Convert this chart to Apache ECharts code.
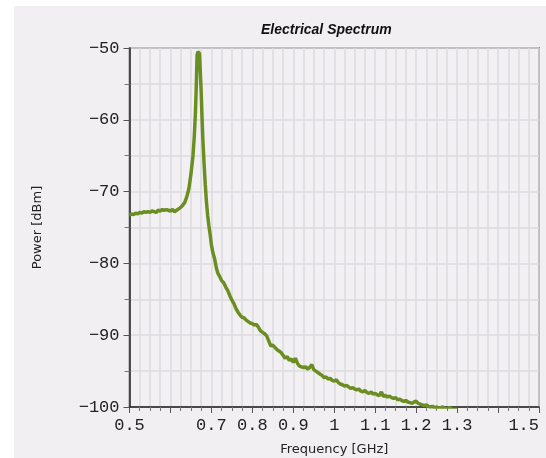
<!DOCTYPE html>
<html>
<head>
<meta charset="utf-8">
<script src="https://cdn.jsdelivr.net/npm/echarts@6/dist/echarts.min.js"></script>
<style>
  html, body { margin: 0; padding: 0; background: #ffffff; }
  #chart { width: 546px; height: 458px; }
</style>
</head>
<body>
<div id="chart"></div>
<script>
// frequency [GHz] and power [dBm]
const freq = [
  0.500, 0.505, 0.510, 0.515, 0.520, 0.525, 0.530, 0.535, 0.540, 0.545,
  0.550, 0.555, 0.560, 0.565, 0.570, 0.575, 0.580, 0.585, 0.590, 0.595,
  0.600, 0.605, 0.610, 0.615, 0.620, 0.625, 0.630, 0.635, 0.640, 0.645,
  0.650, 0.655, 0.658, 0.661, 0.663, 0.665, 0.667, 0.669, 0.671, 0.673,
  0.675, 0.677, 0.679, 0.682, 0.685, 0.688, 0.691, 0.694, 0.697, 0.700,
  0.704, 0.708, 0.712, 0.716, 0.720, 0.725, 0.730, 0.735, 0.740, 0.745,
  0.750, 0.755, 0.760, 0.765, 0.770, 0.775, 0.780, 0.785, 0.790, 0.795,
  0.800, 0.805, 0.810, 0.815, 0.820, 0.825, 0.830, 0.835, 0.840, 0.845,
  0.850, 0.855, 0.860, 0.865, 0.870, 0.875, 0.880, 0.885, 0.890, 0.895,
  0.900, 0.905, 0.910, 0.915, 0.920, 0.925, 0.930, 0.935, 0.940, 0.945,
  0.950, 0.955, 0.960, 0.965, 0.970, 0.975, 0.980, 0.985, 0.990, 0.995,
  1.000, 1.005, 1.010, 1.015, 1.020, 1.025, 1.030, 1.035, 1.040, 1.045,
  1.050, 1.055, 1.060, 1.065, 1.070, 1.075, 1.080, 1.085, 1.090, 1.095,
  1.100, 1.105, 1.110, 1.115, 1.120, 1.125, 1.130, 1.135, 1.140, 1.145,
  1.150, 1.155, 1.160, 1.165, 1.170, 1.175, 1.180, 1.185, 1.190, 1.195,
  1.200, 1.205, 1.210, 1.215, 1.220, 1.225, 1.230, 1.235, 1.240, 1.245,
  1.250, 1.255, 1.260, 1.265, 1.270, 1.275, 1.280, 1.285, 1.290, 1.295,
  1.300, 1.305
]
const power = [
  -73.3, -73.1, -73.2, -73.0, -73.1, -72.9, -73.0, -72.8, -72.9, -72.8,
  -72.9, -72.7, -72.8, -72.9, -72.6, -72.7, -72.5, -72.6, -72.5, -72.6,
  -72.7, -72.5, -72.8, -72.6, -72.4, -72.2, -71.9, -71.5, -70.7, -69.6,
  -67.6, -65.0, -62.5, -59.0, -55.5, -51.0, -50.5, -50.6, -50.8, -53.5,
  -56.0, -59.5, -62.5, -66.0, -69.0, -71.5, -73.4, -74.8, -76.0, -77.4,
  -78.6, -79.4, -80.6, -81.4, -81.8, -82.4, -82.7, -83.3, -83.8, -84.5,
  -85.1, -85.6, -86.3, -86.8, -87.2, -87.5, -87.6, -87.9, -88.1, -88.3,
  -88.4, -88.6, -88.5, -88.9, -89.4, -89.6, -89.8, -90.1, -90.8, -91.5,
  -91.4, -91.7, -92.0, -92.2, -92.4, -92.8, -93.2, -93.0, -93.5, -93.3,
  -93.8, -93.2, -93.9, -94.3, -94.4, -94.5, -94.4, -94.7, -94.5, -94.1,
  -94.8, -95.0, -95.2, -95.4, -95.6, -95.9, -95.8, -96.1, -96.0, -96.3,
  -96.4, -96.2, -96.6, -96.8, -96.9, -97.1, -97.0, -97.2, -97.4, -97.3,
  -97.5, -97.6, -97.5, -97.8, -97.9, -97.7, -98.0, -98.1, -97.9, -98.2,
  -98.1, -98.3, -98.4, -97.9, -98.5, -98.4, -98.6, -98.5, -98.7, -98.8,
  -98.7, -99.0, -98.9, -99.1, -99.2, -99.1, -99.3, -99.4, -99.5, -99.3,
  -99.2, -99.5, -99.6, -99.7, -99.8, -99.7, -99.9, -100.0, -99.9, -100.1,
  -100.0, -100.2, -100.1, -100.0, -100.2, -100.3, -100.1, -100.2, -100.4, -100.3,
  -100.5, -100.6
]
const xTickLabels = ['0.5', '0.7', '0.8', '0.9', '1', '1.1', '1.2', '1.3', '1.5']
const yTickLabels = ['-50', '-60', '-70', '-80', '-90', '-100']

const tickFont = { fontFamily: '"Liberation Mono", "DejaVu Sans Mono", monospace', fontSize: 17, color: '#222' }
const nameFont = { fontFamily: '"DejaVu Sans", Verdana, sans-serif', fontSize: 13, color: '#222' }
const gridColor = '#dcdbdf'

const chart = echarts.init(document.getElementById('chart'), null, { renderer: 'canvas' })
chart.setOption({
  backgroundColor: '#ffffff',
  animation: false,
  graphic: [{
    type: 'rect',
    z: -10,
    silent: true,
    shape: { x: 14, y: 6, width: 532, height: 452 },
    style: { fill: '#f1eff2' }
  }],
  title: {
    text: 'Electrical Spectrum',
    left: 256,
    top: 18,
    textStyle: {
      fontFamily: '"Liberation Sans", Arial, sans-serif',
      fontSize: 14,
      fontWeight: 'bold',
      fontStyle: 'italic',
      color: '#111'
    }
  },
  grid: {
    left: 129.5,
    right: 7,
    top: 48,
    bottom: 51,
    containLabel: false,
    outerBoundsMode: 'none',
    show: true,
    backgroundColor: '#f2f0f3',
    borderColor: '#444',
    borderWidth: 1.5
  },
  xAxis: {
    type: 'value',
    min: 0.5,
    max: 1.5,
    interval: 0.1,
    name: 'Frequency [GHz]',
    nameLocation: 'middle',
    nameGap: 36,
    nameTextStyle: nameFont,
    axisLine: { show: true, onZero: false, lineStyle: { color: '#222', width: 1.5 } },
    axisTick: { show: true, length: 6, lineStyle: { color: '#555' } },
    minorTick: { show: true, splitNumber: 4, length: 4, lineStyle: { color: '#777' } },
    splitLine: { show: true, lineStyle: { color: gridColor, width: 1.5 } },
    minorSplitLine: { show: true, lineStyle: { color: gridColor, width: 1.5 } },
    axisLabel: Object.assign({
      margin: 10,
      alignMaxLabel: 'right',
      formatter: function (v) {
        const s = String(+v.toFixed(2))
        return xTickLabels.indexOf(s) >= 0 ? s : ''
      }
    }, tickFont)
  },
  yAxis: {
    type: 'value',
    min: -100,
    max: -50,
    interval: 10,
    name: 'Power [dBm]',
    nameLocation: 'middle',
    nameGap: 85,
    nameTextStyle: nameFont,
    axisLine: { show: true, lineStyle: { color: '#222', width: 1.5 } },
    axisTick: { show: true, length: 6, lineStyle: { color: '#555' } },
    minorTick: { show: true, splitNumber: 2, length: 5, lineStyle: { color: '#777' } },
    splitLine: { show: true, lineStyle: { color: gridColor, width: 1.5 } },
    minorSplitLine: { show: true, lineStyle: { color: gridColor, width: 1.5 } },
    axisLabel: Object.assign({
      margin: 10,
      formatter: function (v) {
        const s = String(Math.round(v))
        return yTickLabels.indexOf(s) >= 0 ? s.replace('-', '\u2212') : ''
      }
    }, tickFont)
  },
  series: [{
    type: 'line',
    data: freq.map(function (f, i) { return [f, power[i]] }),
    showSymbol: false,
    clip: true,
    lineStyle: { color: '#6b8e23', width: 3.5 }
  }]
})
</script>
</body>
</html>
